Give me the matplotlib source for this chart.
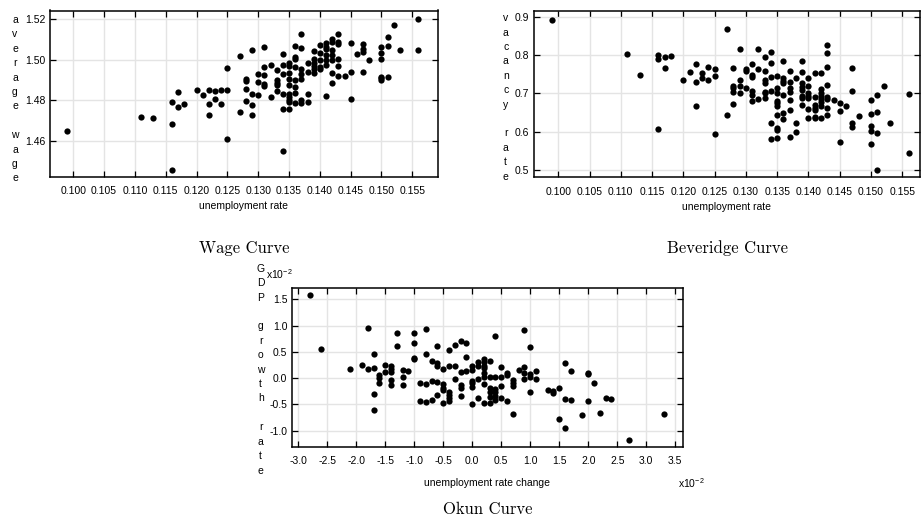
import matplotlib
matplotlib.use("Agg")
import matplotlib.pyplot as plt
from matplotlib.ticker import FixedLocator, FuncFormatter

plt.rcParams['font.family'] = ['Liberation Sans', 'DejaVu Sans']
plt.rcParams['axes.unicode_minus'] = False

# ---------------- Wage curve data ----------------
wage_u = [0.099, 0.111, 0.113, 0.116, 0.116, 0.116, 0.117, 0.117, 0.118, 0.120,
          0.121, 0.122, 0.122, 0.122, 0.123, 0.123, 0.124, 0.124, 0.125, 0.125,
          0.125, 0.127, 0.127, 0.128, 0.128, 0.128, 0.128, 0.129, 0.129, 0.129,
          0.129, 0.130, 0.130, 0.130, 0.131, 0.131, 0.131, 0.131, 0.131, 0.132,
          0.132, 0.133, 0.133, 0.133, 0.133, 0.133, 0.134, 0.134, 0.134, 0.134,
          0.134, 0.134, 0.135, 0.135, 0.135, 0.135, 0.135, 0.135, 0.135, 0.135,
          0.135, 0.135, 0.136, 0.136, 0.136, 0.136, 0.136, 0.136, 0.136, 0.136,
          0.137, 0.137, 0.137, 0.137, 0.137, 0.137, 0.137, 0.138, 0.138, 0.138,
          0.138, 0.139, 0.139, 0.139, 0.139, 0.139, 0.139, 0.140, 0.140, 0.140,
          0.140, 0.140, 0.141, 0.141, 0.141, 0.141, 0.141, 0.141, 0.141, 0.142,
          0.142, 0.142, 0.142, 0.142, 0.142, 0.142, 0.143, 0.143, 0.143, 0.143,
          0.143, 0.143, 0.144, 0.145, 0.145, 0.145, 0.146, 0.147, 0.147, 0.147,
          0.147, 0.148, 0.150, 0.150, 0.150, 0.150, 0.150, 0.150, 0.151, 0.151,
          0.151, 0.152, 0.153, 0.156, 0.156]
wage = [1.4648, 1.4715, 1.4710, 1.4792, 1.4682, 1.4455, 1.4838, 1.4766, 1.4782, 1.4848,
        1.4824, 1.4848, 1.4782, 1.4728, 1.4845, 1.4805, 1.4851, 1.4782, 1.4851, 1.4957,
        1.4610, 1.5016, 1.4741, 1.4904, 1.4894, 1.4853, 1.4797, 1.5047, 1.4833, 1.4778,
        1.4728, 1.4929, 1.4889, 1.4828, 1.5062, 1.4965, 1.4924, 1.4879, 1.4870, 1.4971,
        1.4814, 1.4947, 1.4899, 1.4886, 1.4873, 1.4845, 1.5026, 1.4971, 1.4929, 1.4833,
        1.4759, 1.4549, 1.4981, 1.4970, 1.4935, 1.4906, 1.4875, 1.4833, 1.4814, 1.4800,
        1.4792, 1.4758, 1.5067, 1.5014, 1.5004, 1.4962, 1.4902, 1.4866, 1.4837, 1.4784,
        1.5126, 1.5055, 1.4952, 1.4929, 1.4904, 1.4800, 1.4787, 1.4981, 1.4940, 1.4833,
        1.4792, 1.5044, 1.5001, 1.4985, 1.4968, 1.4952, 1.4935, 1.5070, 1.5031, 1.4998,
        1.4965, 1.4952, 1.5080, 1.5064, 1.5051, 1.5023, 1.4998, 1.4973, 1.4821, 1.5100,
        1.5088, 1.5047, 1.5023, 1.4998, 1.4932, 1.4885, 1.5126, 1.5088, 1.5077, 1.5001,
        1.4970, 1.4921, 1.4921, 1.5080, 1.4940, 1.4807, 1.5026, 1.5075, 1.5051, 1.5039,
        1.4937, 1.4998, 1.5062, 1.5034, 1.5001, 1.4916, 1.4908, 1.4900, 1.5113, 1.5067,
        1.4916, 1.5170, 1.5047, 1.5198, 1.5047]

# ---------------- Beveridge curve data ----------------
bev_u = [0.099, 0.111, 0.113, 0.116, 0.116, 0.116, 0.117, 0.117, 0.118, 0.120,
         0.121, 0.122, 0.122, 0.122, 0.123, 0.123, 0.124, 0.124, 0.125, 0.125,
         0.125, 0.127, 0.127, 0.128, 0.128, 0.128, 0.128, 0.128, 0.129, 0.129,
         0.129, 0.129, 0.130, 0.130, 0.130, 0.131, 0.131, 0.131, 0.131, 0.131,
         0.131, 0.132, 0.132, 0.132, 0.133, 0.133, 0.133, 0.133, 0.133, 0.133,
         0.133, 0.134, 0.134, 0.134, 0.134, 0.134, 0.134, 0.135, 0.135, 0.135,
         0.135, 0.135, 0.135, 0.135, 0.135, 0.135, 0.135, 0.136, 0.136, 0.136,
         0.136, 0.136, 0.136, 0.136, 0.137, 0.137, 0.137, 0.137, 0.137, 0.137,
         0.137, 0.138, 0.138, 0.138, 0.139, 0.139, 0.139, 0.139, 0.139, 0.139,
         0.139, 0.139, 0.140, 0.140, 0.140, 0.140, 0.140, 0.140, 0.140, 0.141,
         0.141, 0.141, 0.141, 0.141, 0.141, 0.141, 0.142, 0.142, 0.142, 0.142,
         0.142, 0.142, 0.142, 0.142, 0.143, 0.143, 0.143, 0.143, 0.143, 0.143,
         0.143, 0.143, 0.144, 0.145, 0.145, 0.145, 0.146, 0.147, 0.147, 0.147,
         0.147, 0.148, 0.150, 0.150, 0.150, 0.150, 0.150, 0.151, 0.151, 0.151,
         0.151, 0.152, 0.153, 0.156, 0.156]
vacancy = [0.8926, 0.8033, 0.7480, 0.7999, 0.7887, 0.6066, 0.7939, 0.7669, 0.7973, 0.7348,
           0.7548, 0.7757, 0.7296, 0.6672, 0.7539, 0.7393, 0.7695, 0.7340, 0.7626, 0.7461,
           0.5944, 0.8684, 0.6430, 0.7653, 0.7193, 0.7133, 0.7044, 0.6716, 0.8155, 0.7340,
           0.7193, 0.7002, 0.7635, 0.7583, 0.7133, 0.7757, 0.7478, 0.7435, 0.7071, 0.6959,
           0.6810, 0.8155, 0.7635, 0.6846, 0.7939, 0.7583, 0.7348, 0.7263, 0.7044, 0.7003,
           0.6889, 0.8085, 0.7783, 0.7418, 0.7063, 0.6238, 0.5806, 0.7453, 0.7148, 0.7002,
           0.6802, 0.6742, 0.6672, 0.6438, 0.6108, 0.6048, 0.5832, 0.7843, 0.7393, 0.7330,
           0.7263, 0.6959, 0.6482, 0.6334, 0.7583, 0.7305, 0.7133, 0.7044, 0.6828, 0.6568,
           0.5874, 0.7393, 0.6238, 0.5988, 0.7843, 0.7565, 0.7263, 0.7176, 0.7090, 0.6932,
           0.6872, 0.6698, 0.7393, 0.7193, 0.7002, 0.6932, 0.6872, 0.6594, 0.6360, 0.7522,
           0.6915, 0.6698, 0.6611, 0.6568, 0.6394, 0.6351, 0.7522, 0.7107, 0.7018, 0.6932,
           0.6846, 0.6785, 0.6672, 0.6352, 0.8250, 0.8059, 0.7695, 0.7218, 0.6915, 0.6846,
           0.6613, 0.6438, 0.6828, 0.6758, 0.6550, 0.5744, 0.6672, 0.7653, 0.7071, 0.6238,
           0.6134, 0.6420, 0.6828, 0.6464, 0.6160, 0.6022, 0.5684, 0.6959, 0.6524, 0.5962,
           0.5008, 0.7193, 0.6238, 0.6984, 0.5442]

# ---------------- Okun curve data (units of 1e-2) ----------------
okun_du = [-2.8, -2.6, -2.1, -1.9, -1.8, -1.8, -1.7, -1.7, -1.7, -1.7,
           -1.6, -1.6, -1.6, -1.5, -1.5, -1.4, -1.4, -1.4, -1.4, -1.4,
           -1.3, -1.3, -1.2, -1.2, -1.2, -1.1, -1.0, -1.0, -1.0, -1.0,
           -0.9, -0.9, -0.8, -0.8, -0.8, -0.8, -0.7, -0.7, -0.7, -0.6,
           -0.6, -0.6, -0.6, -0.6, -0.5, -0.5, -0.5, -0.5, -0.5, -0.4,
           -0.4, -0.4, -0.4, -0.4, -0.4, -0.3, -0.3, -0.3, -0.2, -0.2,
           -0.2, -0.2, -0.2, -0.1, -0.1, -0.1, 0.0, 0.0, 0.0, 0.0,
           0.0, 0.0, 0.1, 0.1, 0.1, 0.1, 0.2, 0.2, 0.2, 0.2,
           0.2, 0.2, 0.2, 0.2, 0.3, 0.3, 0.3, 0.3, 0.3, 0.3,
           0.4, 0.4, 0.4, 0.4, 0.4, 0.4, 0.5, 0.5, 0.5, 0.5,
           0.6, 0.6, 0.6, 0.7, 0.7, 0.7, 0.7, 0.8, 0.9, 0.9,
           0.9, 0.9, 1.0, 1.0, 1.0, 1.0, 1.1, 1.1, 1.3, 1.4,
           1.4, 1.5, 1.5, 1.6, 1.6, 1.6, 1.7, 1.7, 1.9, 2.0,
           2.0, 2.0, 2.1, 2.2, 2.3, 2.4, 2.7, 3.3]
okun_g = [1.582, 0.555, 0.183, 0.250, 0.950, 0.180, 0.459, 0.195, -0.308, -0.609,
          0.065, 0.010, -0.100, 0.250, 0.125, 0.225, 0.170, 0.110, -0.033, -0.131,
          0.853, 0.617, 0.162, 0.019, -0.131, 0.142, 0.850, 0.675, 0.385, 0.355,
          -0.100, -0.436, 0.935, 0.459, -0.119, -0.455, 0.325, -0.055, -0.416, 0.617,
          0.290, 0.236, -0.068, -0.321, 0.167, -0.119, -0.195, -0.226, -0.465, 0.535,
          0.230, -0.270, -0.320, -0.370, -0.436, 0.630, 0.236, -0.017, 0.706, 0.110,
          -0.131, -0.195, -0.341, 0.662, 0.396, 0.135, 0.236, 0.154, -0.055, -0.100,
          -0.163, -0.490, 0.300, 0.236, -0.017, -0.385, 0.364, 0.300, 0.236, 0.186,
          0.091, 0.028, -0.119, -0.477, 0.332, 0.022, -0.183, -0.259, -0.364, -0.465,
          0.808, 0.022, -0.213, -0.270, -0.333, -0.416, 0.218, 0.028, -0.150, -0.385,
          0.091, 0.060, -0.436, -0.036, -0.100, -0.150, -0.683, 0.154, 0.916, 0.205,
          0.104, -0.017, 0.598, 0.072, 0.028, -0.259, 0.135, -0.017, -0.226, -0.245,
          -0.290, -0.195, -0.785, 0.281, -0.397, -0.943, 0.142, -0.416, -0.702, 0.091,
          0.072, -0.436, -0.100, -0.658, -0.385, -0.404, -1.176, -0.683]

# ---------------- ticks ----------------
u_ticks = [0.100, 0.105, 0.110, 0.115, 0.120, 0.125, 0.130, 0.135, 0.140, 0.145, 0.150, 0.155]
wage_ticks = [1.46, 1.48, 1.50, 1.52]
vac_ticks = [0.5, 0.6, 0.7, 0.8, 0.9]
du_ticks = [-3.0, -2.5, -2.0, -1.5, -1.0, -0.5, 0.0, 0.5, 1.0, 1.5, 2.0, 2.5, 3.0, 3.5]
g_ticks = [-1.0, -0.5, 0.0, 0.5, 1.0, 1.5]

W, H = 921, 528
fig = plt.figure(figsize=(W / 100, H / 100), dpi=100)


def px_axes(l, t, r, b):
    return fig.add_axes([l / W, 1 - b / H, (r - l) / W, (b - t) / H])


def style(ax, xt, yt, xfmt, yfmt):
    ax.set_axisbelow(True)
    ax.grid(True, color='#e4e4e4', linewidth=1.0)
    ax.xaxis.set_major_locator(FixedLocator(xt))
    ax.yaxis.set_major_locator(FixedLocator(yt))
    ax.xaxis.set_major_formatter(FuncFormatter(lambda v, p: xfmt % v))
    ax.yaxis.set_major_formatter(FuncFormatter(lambda v, p: yfmt % v))
    ax.tick_params(direction='in', top=True, right=True, length=4, width=0.9,
                   labelsize=7.5, colors='black')
    ax.tick_params(axis='x', pad=7)
    ax.tick_params(axis='y', pad=3.5)
    for s in ax.spines.values():
        s.set_linewidth(1.1)
        s.set_color('black')


mk = dict(linestyle='none', marker='o', markersize=4.5, color='black',
          markeredgewidth=0)

# Wage curve
ax1 = px_axes(50, 10.5, 437.7, 176.7)
ax1.plot(wage_u, wage, **mk)
ax1.set_xlim(0.09622, 0.15912)
ax1.set_ylim(1.44232, 1.52419)
style(ax1, u_ticks, wage_ticks, '%.3f', '%.2f')
ax1.set_xlabel('unemployment rate', fontsize=7.5)
ax1.xaxis.label.set_va('center')
ax1.xaxis.set_label_coords(0.5, -(206 - 176.7) / 166.2)
ax1.set_ylabel('\n'.join('average wage'), rotation=0, fontsize=7.5,
               ha='center', va='center', linespacing=1.55)
ax1.yaxis.set_label_coords((15 - 50) / 387.7, (176.7 - 99.2) / 166.2)

# Beveridge curve
ax2 = px_axes(534, 11, 919.5, 177.3)
ax2.plot(bev_u, vacancy, **mk)
ax2.set_xlim(0.09613, 0.15774)
ax2.set_ylim(0.4810, 0.9149)
style(ax2, u_ticks, vac_ticks, '%.3f', '%.1f')
ax2.set_xlabel('unemployment rate', fontsize=7.5)
ax2.xaxis.label.set_va('center')
ax2.xaxis.set_label_coords(0.5, -(206.5 - 177.3) / 166.3)
ax2.set_ylabel('\n'.join('vacancy rate'), rotation=0, fontsize=7.5,
               ha='center', va='center', linespacing=1.55)
ax2.yaxis.set_label_coords((505.7 - 534) / 385.5, (177.3 - 97.5) / 166.3)

# Okun curve
ax3 = px_axes(292.3, 287.7, 682.7, 446.7)
ax3.plot(okun_du, okun_g, **mk)
ax3.set_xlim(-3.103, 3.628)
ax3.set_ylim(-1.304, 1.721)
style(ax3, du_ticks, g_ticks, '%.1f', '%.1f')
ax3.set_xlabel('unemployment rate change', fontsize=7.5)
ax3.xaxis.label.set_va('center')
ax3.xaxis.set_label_coords(0.5, -(483 - 446.7) / 159.0)
ax3.set_ylabel('\n'.join('GDP growth rate'), rotation=0, fontsize=7.5,
               ha='center', va='center', linespacing=1.55)
ax3.yaxis.set_label_coords((260.7 - 292.3) / 390.4, (446.7 - 369.7) / 159.0)

fig.text(266 / W, 1 - 274 / H, r'x10$^{\mathregular{-2}}$', fontsize=7.5,
         ha='left', va='center')
fig.text(678 / W, 1 - 483 / H, r'x10$^{\mathregular{-2}}$', fontsize=7.5,
         ha='left', va='center')

# Titles
fig.text(244 / W, 1 - 248 / H, 'Wage Curve', family='cmr10', fontsize=12,
         ha='center', va='center')
fig.text(727 / W, 1 - 248 / H, 'Beveridge Curve', family='cmr10', fontsize=12,
         ha='center', va='center')
fig.text(487.5 / W, 1 - 509 / H, 'Okun Curve', family='cmr10', fontsize=12,
         ha='center', va='center')

fig.savefig('out.png', dpi=100)
